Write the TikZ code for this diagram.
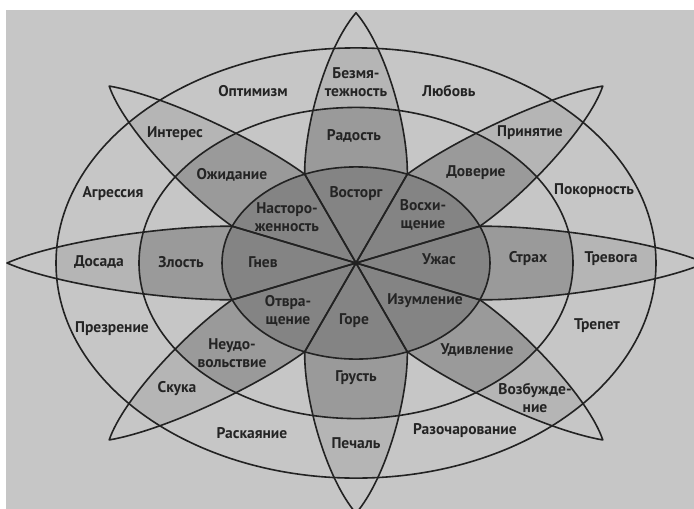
\documentclass[tikz,border=0pt]{standalone}
\usepackage{fontspec}
\setmainfont{PT Sans}
\usepackage{tikz}
\usepackage{xcolor}
\definecolor{bggray}{RGB}{198,198,198}
\definecolor{outerring}{RGB}{181,181,181}
\definecolor{midring}{RGB}{154,154,154}
\definecolor{innerring}{RGB}{132,132,132}
\definecolor{linegray}{RGB}{34,34,34}
\definecolor{textgray}{RGB}{36,36,36}

\begin{document}
\begin{tikzpicture}[x=1pt,y=-1pt,
    every node/.style={font=\bfseries\fontsize{15.5}{18.5}\selectfont,text=textgray,inner sep=0pt,align=center},
    petal/.style={insert path={(0,0) -- (123.8,51.3) .. controls (190,52) and (300,30) .. (349,0)
        .. controls (300,-30) and (190,-52) .. (123.8,-51.3) -- cycle}},
    wheel/.style={draw=linegray,line width=1.6pt}]
  \useasboundingbox (0,0) rectangle (694,509);
  \clip (0,0) rectangle (694,509);
  \fill[white] (0,0) rectangle (694,509);
  \fill[bggray] (6,10) rectangle (694,509);
  % flower of eight petals, squeezed vertically
  \begin{scope}[shift={(356,263)},yscale=0.717]
    \begin{scope}
      \clip (0,0) circle (300);
      \foreach \a in {0,45,...,315}
        \fill[outerring,rotate=\a,petal];
    \end{scope}
    \begin{scope}
      \clip (0,0) circle (217);
      \foreach \a in {0,45,...,315}
        \fill[midring,rotate=\a,petal];
    \end{scope}
    \fill[innerring] (0,0) circle (134);
    \foreach \a in {0,45,...,315}
      \draw[wheel,line join=round,rotate=\a,petal];
    \foreach \r in {134,217,300}
      \draw[wheel] (0,0) circle (\r);
  \end{scope}
  % outer ring
  \node (optimizm) at (253,91) {Оптимизм};
  \node (lyubov) at (449,91) {Любовь};
  \node (agressiya) at (113,194) {Агрессия};
  \node (pokornost) at (594,191) {Покорность};
  \node (prezrenie) at (112,329) {Презрение};
  \node (trepet) at (597,326) {Трепет};
  \node (raskayanie) at (252,433) {Раскаяние};
  \node (razocharovanie) at (465,431) {Разочарование};
  % petals, outer part
  \node (bezmyat) at (356,82) {Безмя-\\тежность};
  \node (interes) at (175,134) {Интерес};
  \node (prinyatie) at (530,133) {Принятие};
  \node (dosada) at (99,262) {Досада};
  \node (trevoga) at (611,259) {Тревога};
  \node (skuka) at (177,389) {Скука};
  \node (vozbuzhd) at (535,398) {Возбужде-\\ние};
  \node (pechal) at (356,443) {Печаль};
  % petals, middle part
  \node (radost) at (354,136) {Радость};
  \node (ozhidanie) at (232,175) {Ожидание};
  \node (doverie) at (476,173) {Доверие};
  \node (zlost) at (181,262) {Злость};
  \node (strakh) at (528,259) {Страх};
  \node (neudov) at (232,353) {Неудо-\\вольствие};
  \node (udivlenie) at (477,350) {Удивление};
  \node (grust) at (356,378) {Грусть};
  % petals, inner part
  \node (vostorg) at (356,194) {Восторг};
  \node (nastor) at (287,217) {Насторо-\\женность};
  \node (voskhish) at (423,215) {Восхи-\\щение};
  \node (gnev) at (263,262) {Гнев};
  \node (uzhas) at (439,259) {Ужас};
  \node (otvrash) at (288,311) {Отвра-\\щение};
  \node (gore) at (354,321) {Горе};
  \node (izumlenie) at (425,301) {Изумление};
\end{tikzpicture}
\end{document}
